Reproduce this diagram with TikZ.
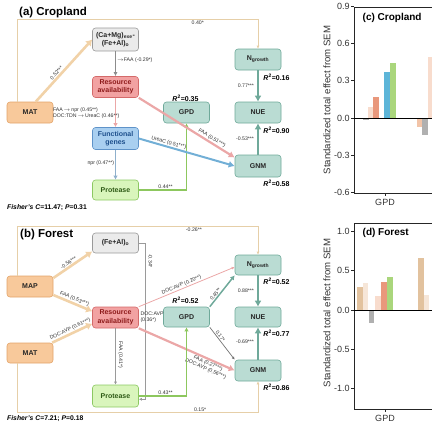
\documentclass[tikz,border=0pt]{standalone}
\usepackage{fontspec}
\setmainfont{Liberation Sans}
\usetikzlibrary{positioning,arrows.meta}
\definecolor{tanfill}{HTML}{F8C99B}
\definecolor{tandraw}{HTML}{E3A469}
\definecolor{tanline}{HTML}{F1D2A8}
\definecolor{framecol}{HTML}{E6CFA8}
\definecolor{grayfill}{HTML}{EBEBEB}
\definecolor{graydraw}{HTML}{9A9A9A}
\definecolor{grayline}{HTML}{8C8C8C}
\definecolor{redfill}{HTML}{F2A2A2}
\definecolor{reddraw}{HTML}{D46A6A}
\definecolor{redtext}{HTML}{8E1B1B}
\definecolor{redline}{HTML}{EBA7A7}
\definecolor{bluefill}{HTML}{A9CFF0}
\definecolor{bluedraw}{HTML}{5F93C9}
\definecolor{bluetext}{HTML}{1D4F8C}
\definecolor{blueline}{HTML}{72AFD6}
\definecolor{bluegray}{HTML}{8FB0CC}
\definecolor{greenfill}{HTML}{D9F5BC}
\definecolor{greendraw}{HTML}{8CC862}
\definecolor{greentext}{HTML}{2E5A16}
\definecolor{greenline}{HTML}{8DC75E}
\definecolor{tealfill}{HTML}{BADCD3}
\definecolor{tealdraw}{HTML}{6FA99A}
\definecolor{barGray}{HTML}{B0B0B0}
\definecolor{barPale}{HTML}{F8DCCD}
\definecolor{barSalmon}{HTML}{E9987C}
\definecolor{barPeach}{HTML}{F2C4A8}
\definecolor{barBlue}{HTML}{5DB5D8}
\definecolor{barGreen}{HTML}{AAD67C}
\definecolor{barTan}{HTML}{E2C29E}
\definecolor{barCream}{HTML}{F6E6D8}
\tikzset{
  boxbase/.style={draw, rounded corners=3pt, line width=0.6pt, minimum width=46pt, minimum height=21pt, inner sep=1pt, align=center, font=\bfseries\fontsize{7}{8.5}\selectfont},
  tanbox/.style={boxbase, fill=tanfill, draw=tandraw, text=black!85},
  graybox/.style={boxbase, fill=grayfill, draw=graydraw, text=black!85},
  redbox/.style={boxbase, fill=redfill, draw=reddraw, text=redtext},
  bluebox/.style={boxbase, fill=bluefill, draw=bluedraw, text=bluetext},
  greenbox/.style={boxbase, fill=greenfill, draw=greendraw, text=greentext},
  tealbox/.style={boxbase, fill=tealfill, draw=tealdraw, text=black!85},
  tanarrow/.style={-{Latex[length=6pt,width=8pt]}, line width=2.6pt, draw=tanline},
  tealarrow/.style={-{Latex[length=6pt,width=7pt]}, line width=2.4pt, draw=tealdraw},
  redarrow/.style={-{Latex[length=6pt,width=7pt]}, line width=2.2pt, draw=redline},
  bluearrow/.style={-{Latex[length=6pt,width=7pt]}, line width=2pt, draw=blueline},
  greenarrow/.style={-{Latex[length=4pt,width=4.5pt]}, line width=1.3pt, draw=greenline},
  grayarrow/.style={-{Latex[length=4pt,width=4pt]}, line width=1.1pt, draw=grayline},
  thinarrow/.style={-{Latex[length=3pt,width=3pt]}, line width=0.6pt},
  framearrow/.style={-{Latex[length=3pt,width=3pt]}, line width=0.8pt, draw=framecol},
  lbl/.style={font=\fontsize{5.2}{6}\selectfont, inner sep=0.8pt, text=black!80},
  rsq/.style={font=\bfseries\fontsize{7}{8}\selectfont, inner sep=0pt},
  paneltitle/.style={font=\bfseries\fontsize{11.5}{13}\selectfont, inner sep=0pt, anchor=west},
  fisher/.style={font=\bfseries\fontsize{6.8}{8}\selectfont, inner sep=0pt, anchor=west},
  axisline/.style={line width=0.7pt, draw=black!85},
  ticklbl/.style={font=\fontsize{9}{10}\selectfont, inner sep=1pt, text=black!80},
  charttitle/.style={font=\bfseries\fontsize{10}{12}\selectfont, inner sep=0pt, anchor=west}
}
\newcommand{\Rsq}[1]{\textit{R}\textsuperscript{2}=#1}

\begin{document}
\begin{tikzpicture}[x=1pt, y=-1pt, >=Latex]
\useasboundingbox (0,0) rectangle (432,432);

% (a) Cropland
\node[paneltitle] (titleA) at (19,13) {(a) Cropland};
\node[tanbox] (matA) at (30,112.5) {MAT};
\node[graybox, minimum height=23pt] (caA) at (115.5,39.5) {(Ca+Mg)\textsubscript{exe}-\\(Fe+Al)\textsubscript{o}};
\node[redbox] (resA) at (115.5,87) {Resource\\availability};
\node[bluebox, minimum height=22pt] (funA) at (115.5,138.5) {Functional\\genes};
\node[greenbox, minimum height=20pt] (proA) at (115.5,190) {Protease};
\node[tealbox] (gpdA) at (186.5,112.5) {GPD};
\node[tealbox] (ngrA) at (258,59.5) {N\textsubscript{growth}};
\node[tealbox] (nueA) at (258,112.5) {NUE};
\node[tealbox, minimum height=22pt] (gnmA) at (258,166) {GNM};

\draw[framearrow] ([xshift=-13pt]matA.north) -- ++(0,-82) -| node[lbl, pos=0.375, below]{0.40*} (ngrA.north);
\draw[tanarrow] (matA.62) -- node[lbl, sloped, above, pos=0.42]{0.52***} (caA.west);
\draw[grayarrow] (caA.south) -- (resA.north);
\node[lbl, anchor=west] (l29A) at (116,60) {$\rightarrow$FAA (-0.29*)};
\draw[-{Latex[length=4pt,width=4.5pt]}, line width=1.5pt, draw=redline] (resA.south) -- (funA.north);
\node[lbl, anchor=west, align=left] (l45A) at (52,113) {FAA\,$\rightarrow$\,npr (0.45**)\\DOC:TDN\,$\rightarrow$\,UreaC (0.46**)};
\draw[-{Latex[length=4pt,width=4.5pt]}, line width=1.2pt, draw=bluegray] (funA.south) -- node[lbl, left, pos=0.45]{npr (0.47**)} (proA.north);
\draw[greenarrow] (proA.east) -| node[lbl, pos=0.28, above]{0.44**} (gpdA.south);
\draw[redarrow] (resA.south east) -- node[lbl, sloped, above, pos=0.74]{FAA (0.51***)} (gnmA.160);
\draw[bluearrow] (funA.east) -- node[lbl, sloped, above, pos=0.3]{UreaC (0.51***)} (gnmA.west);
\draw[tealarrow] (ngrA.south) -- node[lbl, left, xshift=-2pt]{0.77***} (nueA.north);
\draw[tealarrow] (gnmA.north) -- node[lbl, left, xshift=-2pt]{-0.53***} (nueA.south);
\node[rsq] (r16A) at (276.5,77) {\Rsq{0.16}};
\node[rsq] (r35A) at (185.5,98) {\Rsq{0.35}};
\node[rsq] (r90A) at (276.5,130) {\Rsq{0.90}};
\node[rsq] (r58A) at (276.5,183) {\Rsq{0.58}};
\node[fisher] (fisA) at (7,207.5) {\textit{Fisher's C}=11.47; \textit{P}=0.31};

% (b) Forest
\node[paneltitle] (titleB) at (20,235) {(b) Forest};
\node[tanbox] (mapB) at (30,286.5) {MAP};
\node[graybox, minimum height=20pt] (feB) at (115.5,243) {(Fe+Al)\textsubscript{o}};
\node[redbox] (resB) at (115.5,317.5) {Resource\\availability};
\node[tanbox, minimum height=20pt] (matB) at (30,353) {MAT};
\node[greenbox, minimum height=22pt] (proB) at (115.5,396) {Protease};
\node[tealbox, minimum height=20pt] (gpdB) at (186.5,317) {GPD};
\node[tealbox, minimum height=20pt] (ngrB) at (258,265) {N\textsubscript{growth}};
\node[tealbox, minimum height=20pt] (nueB) at (258,317) {NUE};
\node[tealbox] (gnmB) at (258,370.5) {GNM};

\draw[framearrow] ([xshift=-13pt]mapB.north) -- ++(0,-49) -| node[lbl, pos=0.367, below]{-0.26**} (ngrB.north);
\draw[framearrow] ([xshift=-13pt]matB.south) -- ++(0,49) -| node[lbl, pos=0.38, above]{0.15*} (gnmB.south);
\draw[tanarrow] (mapB.20) -- node[lbl, sloped, above, pos=0.45]{-0.56***} (feB.200);
\draw[tanarrow] (mapB.-20) -- node[lbl, sloped, above, pos=0.5]{FAA (0.53***)} (resB.165);
\draw[tanarrow] (matB.25) -- node[lbl, sloped, above, pos=0.5]{DOC:AVP (0.61***)} (resB.195);
\draw[thinarrow, draw=graydraw] (feB.east) -- ++(6.5,0) |- (proB.-8);
\node[lbl, rotate=-90] (l34B) at (150.5,261) {-0.34*};
\draw[thinarrow, draw=graydraw] (resB.south) -- (proB.north);
\node[lbl, rotate=-90] (l41B) at (120.5,355) {FAA (0.41*)};
\draw[thinarrow, line width=0.8pt, draw=redline] (resB.north east) -- node[lbl, sloped, above, pos=0.46]{DOC:AVP (0.20**)} (ngrB.185);
\node[lbl, anchor=west, align=left] (l36B) at (139.5,317) {DOC:AVP\\(0.36*)};
\draw[-{Latex[length=4.5pt,width=5pt]}, line width=1.5pt, draw=tealdraw] (gpdB.north east) -- node[lbl, sloped, above, pos=0.33]{0.45**} (ngrB.south west);
\draw[thinarrow, line width=0.7pt, draw=black!55] (gpdB.south east) -- node[lbl, sloped, above, pos=0.33]{0.17*} (gnmB.north west);
\draw[redarrow] (resB.south east) -- node[lbl, sloped, below, pos=0.74, align=center]{FAA (0.27***)\\DOC:AVP (0.56***)} (gnmB.west);
\draw[greenarrow] (proB.east) -| node[lbl, pos=0.28, above]{0.43**} (gpdB.south);
\draw[tealarrow] (ngrB.south) -- node[lbl, left, xshift=-2pt]{0.88***} (nueB.north);
\draw[tealarrow] (gnmB.north) -- node[lbl, left, xshift=-2pt, pos=0.55]{-0.69***} (nueB.south);
\node[rsq] (r52B) at (276.5,281) {\Rsq{0.52}};
\node[rsq] (r52G) at (185.5,300) {\Rsq{0.52}};
\node[rsq] (r77B) at (276.5,333) {\Rsq{0.77}};
\node[rsq] (r86B) at (276.5,387) {\Rsq{0.86}};
\node[fisher] (fisB) at (7,419) {\textit{Fisher's C}=7.21; \textit{P}=0.18};

% (c) Cropland chart
\foreach \xa/\h/\c in {363/-0.02/barGray, 368/0.09/barPale, 373/0.17/barSalmon, 384/0.37/barBlue, 390/0.44/barGreen, 417/-0.07/barPeach, 422/-0.14/barGray, 428/0.49/barPale}
  \fill[\c] (\xa,118) rectangle ++(5.5,{-(\h)*124});
\draw[axisline] (432,7) -- (354,7) -- (354,193) -- (432,193);
\draw[line width=0.9pt] (354,118) -- (432,118);
\foreach \v in {0.9,0.6,0.3,0.0,-0.3,-0.6}
  \draw[axisline] (354,{118-(\v)*124}) -- ++(-3,0) node[ticklbl, left]{\v};
\draw[axisline] (385,193) -- ++(0,3);
\node[ticklbl] (gpdC) at (385,202.5) {GPD};
\node[ticklbl, rotate=90, font=\fontsize{9.6}{11}\selectfont] (ylabC) at (327,100) {Standardized total effect from SEM};
\node[charttitle] (titleC) at (362.5,18) {(c) Cropland};

% (d) Forest chart
\foreach \xa/\h/\c in {357/0.29/barTan, 362.5/0.34/barCream, 368.5/-0.16/barGray, 375/0.18/barPale, 381/0.36/barSalmon, 387/0.42/barGreen, 418/0.66/barTan, 423.5/0.19/barCream}
  \fill[\c] (\xa,310) rectangle ++(5.5,{-(\h)*78.6});
\draw[axisline] (432,223) -- (354,223) -- (354,409) -- (432,409);
\draw[line width=0.9pt] (354,310) -- (432,310);
\foreach \v in {1.0,0.5,0.0,-0.5,-1.0}
  \draw[axisline] (354,{310-(\v)*78.6}) -- ++(-3,0) node[ticklbl, left]{\v};
\draw[axisline] (385,409) -- ++(0,3);
\node[ticklbl] (gpdD) at (385,418.5) {GPD};
\node[ticklbl, rotate=90, font=\fontsize{9.6}{11}\selectfont] (ylabD) at (327,313) {Standardized total effect from SEM};
\node[charttitle] (titleD) at (362.5,233) {(d) Forest};
\end{tikzpicture}
\end{document}
